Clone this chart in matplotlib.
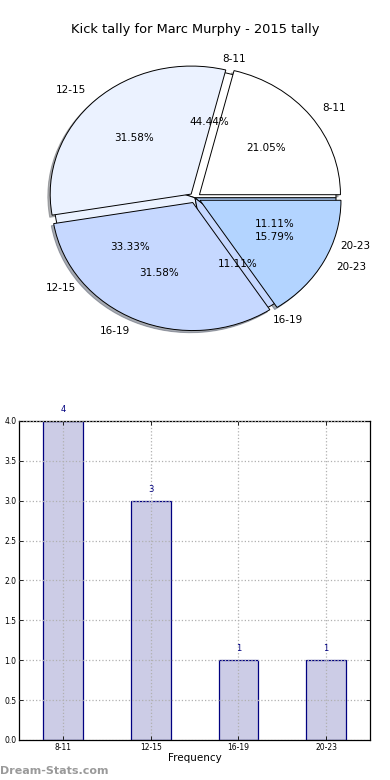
import matplotlib
matplotlib.use("Agg")
import matplotlib.pyplot as plt

# pie data (two pies drawn on the same axes)
pie_labels = ['8-11', '12-15', '16-19', '20-23']
pie1_values = [4, 6, 6, 3]
pie2_values = [4, 3, 1, 1]
pie_colors = ['#ffffff', '#ebf2ff', '#c6d8ff', '#b3d4ff']

# bar data
bar_labels = ['8-11', '12-15', '16-19', '20-23']
bar_values = [4, 3, 1, 1]
yticks = [0.0, 0.5, 1.0, 1.5, 2.0, 2.5, 3.0, 3.5, 4.0]

fig = plt.figure(figsize=(3.9, 7.8), dpi=100)
fig.text(0.5, 1 - 30 / 780, 'Kick tally for Marc Murphy - 2015 tally',
         ha='center', va='center', fontsize=9.4)

# --- pie ---
ax1 = fig.add_axes([0.030, 0.533, 0.94, 0.4267])
ax1.pie(pie2_values, labels=pie_labels, colors=pie_colors, autopct='%1.2f%%',
        wedgeprops=dict(edgecolor='black', linewidth=0.7),
        textprops=dict(fontsize=7.5))
ax1.pie(pie1_values, labels=pie_labels, colors=pie_colors, autopct='%1.2f%%',
        explode=[0.04] * 4,
        shadow={'ox': -0.012, 'oy': -0.012, 'shade': 0.6},
        wedgeprops=dict(edgecolor='black', linewidth=0.7),
        textprops=dict(fontsize=7.5))
ax1.set_aspect('auto')
ax1.set_xlim(-1.3, 1.3)
ax1.set_ylim(-1.3, 1.3)
ax1.axis('off')

# --- bars ---
ax2 = fig.add_axes([0.0495, 0.0513, 0.899, 0.409])
x = list(range(len(bar_values)))
bars = ax2.bar(x, bar_values, width=0.45, color='#cccce6',
               edgecolor='#000080', linewidth=0.9)
for b, v in zip(bars, bar_values):
    ax2.text(b.get_x() + b.get_width() / 2, v + 0.09, str(v),
             ha='center', va='bottom', fontsize=6, color='#000080')
ax2.set_xlim(-0.5, 3.5)
ax2.set_ylim(0, 4)
ax2.set_xticks(x)
ax2.set_xticklabels(bar_labels)
ax2.set_yticks(yticks)
ax2.set_yticklabels(['%.1f' % t for t in yticks])
ax2.tick_params(labelsize=5.5, direction='in', top=True, right=True,
                length=3, width=0.6, pad=2)
ax2.grid(True, linestyle=':', color='#b0b0b0', linewidth=0.9)
ax2.set_axisbelow(False)
ax2.set_xlabel('Frequency', fontsize=7.5, labelpad=1)
for s in ax2.spines.values():
    s.set_linewidth(0.9)

fig.text(0.0, 1 - 771 / 780, 'Dream-Stats.com', ha='left', va='center',
         fontsize=8, fontweight='bold', color='#9a9a9a')

fig.savefig('out.png', dpi=100)
